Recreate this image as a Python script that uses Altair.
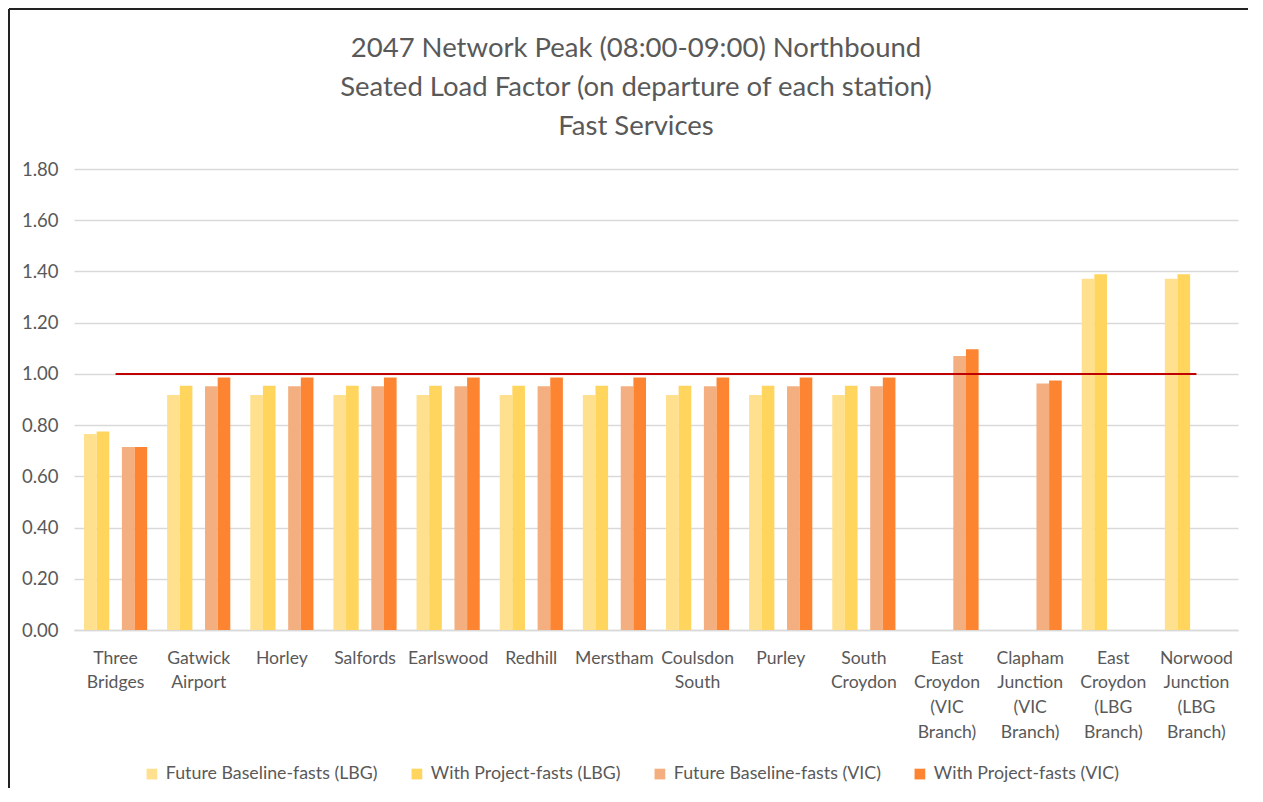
import altair as alt
import pandas as pd

stations = [
    "Three Bridges", "Gatwick Airport", "Horley", "Salfords", "Earlswood",
    "Redhill", "Merstham", "Coulsdon South", "Purley", "South Croydon",
    "East Croydon (VIC Branch)", "Clapham Junction (VIC Branch)",
    "East Croydon (LBG Branch)", "Norwood Junction (LBG Branch)",
]
station_lines = [
    ["Three", "Bridges"], ["Gatwick", "Airport"], ["Horley"], ["Salfords"],
    ["Earlswood"], ["Redhill"], ["Merstham"], ["Coulsdon", "South"],
    ["Purley"], ["South", "Croydon"],
    ["East", "Croydon", "(VIC", "Branch)"], ["Clapham", "Junction", "(VIC", "Branch)"],
    ["East", "Croydon", "(LBG", "Branch)"], ["Norwood", "Junction", "(LBG", "Branch)"],
]
series = [
    "Future Baseline-fasts (LBG)", "With Project-fasts (LBG)",
    "Future Baseline-fasts (VIC)", "With Project-fasts (VIC)",
]
colors = ["#FFE08F", "#FFD55E", "#F3AF80", "#FD8532"]

base_lbg = [0.765, 0.918, 0.918, 0.918, 0.918, 0.918, 0.918, 0.918, 0.918, 0.918, None, None, 1.371, 1.371]
proj_lbg = [0.775, 0.954, 0.954, 0.954, 0.954, 0.954, 0.954, 0.954, 0.954, 0.954, None, None, 1.389, 1.389]
base_vic = [0.715, 0.952, 0.952, 0.952, 0.952, 0.952, 0.952, 0.952, 0.952, 0.952, 1.070, 0.962, None, None]
proj_vic = [0.715, 0.986, 0.986, 0.986, 0.986, 0.986, 0.986, 0.986, 0.986, 0.986, 1.096, 0.974, None, None]
target = [1.0] * len(stations)
y_ticks = [0.0, 0.2, 0.4, 0.6, 0.8, 1.0, 1.2, 1.4, 1.6, 1.8]

rows = []
for s, vals in zip(series, [base_lbg, proj_lbg, base_vic, proj_vic]):
    for st, v in zip(stations, vals):
        if v is not None:
            rows.append({"Station": st, "Series": s, "Value": v})
df = pd.DataFrame(rows)
df_line = pd.DataFrame({"Station": stations, "Target": target})

label_map = {st: "|".join(l) for st, l in zip(stations, station_lines)}
label_expr = "split(" + "{" + ",".join(
    f"'{k}': '{v}'" for k, v in label_map.items()) + "}[datum.label], '|')"

FONT = "Lato"
GREY = "#595959"

x_enc = alt.X(
    "Station:N", sort=stations,
    scale=alt.Scale(paddingInner=0.24, paddingOuter=0.12),
    axis=alt.Axis(title=None, labelAngle=0, labelExpr=label_expr,
                  labelFont=FONT, labelFontSize=17.6, labelColor=GREY,
                  labelLineHeight=24.7, labelPadding=19, labelBaseline="top",
                  ticks=False, domain=True, domainColor="#D9D9D9", domainWidth=1.3,
                  grid=False),
)

bars = alt.Chart(df).mark_bar().encode(
    x=x_enc,
    xOffset=alt.XOffset("Series:N",
                        scale=alt.Scale(domain=[series[0], series[1], "gap", series[2], series[3]],
                                        paddingInner=0, paddingOuter=0)),
    y=alt.Y("Value:Q",
            scale=alt.Scale(domain=[0, 1.8], nice=False),
            axis=alt.Axis(title=None, values=y_ticks, format=".2f",
                          labelFont=FONT, labelFontSize=18.5, labelColor=GREY,
                          labelPadding=16, ticks=False, domain=False,
                          gridColor="#D9D9D9", gridWidth=1.3)),
    color=alt.Color("Series:N",
                    scale=alt.Scale(domain=series, range=colors),
                    legend=alt.Legend(title=None, orient="none", legendX=69, legendY=596,
                                      direction="horizontal", columns=4, columnPadding=30,
                                      symbolType="square", symbolSize=115,
                                      symbolStrokeWidth=0, labelOffset=5, labelLimit=400,
                                      labelFont=FONT, labelFontSize=17.8, labelColor=GREY)),
)

line = alt.Chart(df_line).mark_line(color="#C00000", strokeWidth=2).encode(
    x=alt.X("Station:N", sort=stations),
    y=alt.Y("Target:Q"),
)

frame = alt.Chart(pd.DataFrame({"a": [0]})).mark_rule(color="#222222", strokeWidth=2).encode(
    x=alt.value(-65), x2=alt.value(1200), y=alt.value(-160)
)
frame_left = alt.Chart(pd.DataFrame({"a": [0]})).mark_rule(color="#222222", strokeWidth=2).encode(
    x=alt.value(-65), y=alt.value(-160), y2=alt.value(640)
)

chart = alt.layer(bars, line, frame, frame_left).properties(
    width=1164, height=461,
    padding={"left": 66, "top": 161, "right": 10, "bottom": 158},
    autosize=alt.AutoSizeParams(type="none"),
    title=alt.TitleParams(
        text=["2047 Network Peak (08:00-09:00) Northbound",
              "Seated Load Factor (on departure of each station)",
              "Fast Services"],
        font=FONT, fontSize=27.5, fontWeight="normal", color=GREY,
        lineHeight=39, anchor="middle", dx=-20, offset=-132),
).configure_view(stroke=None)

chart.save("out.html", embed_options={"renderer": "svg", "actions": False})
